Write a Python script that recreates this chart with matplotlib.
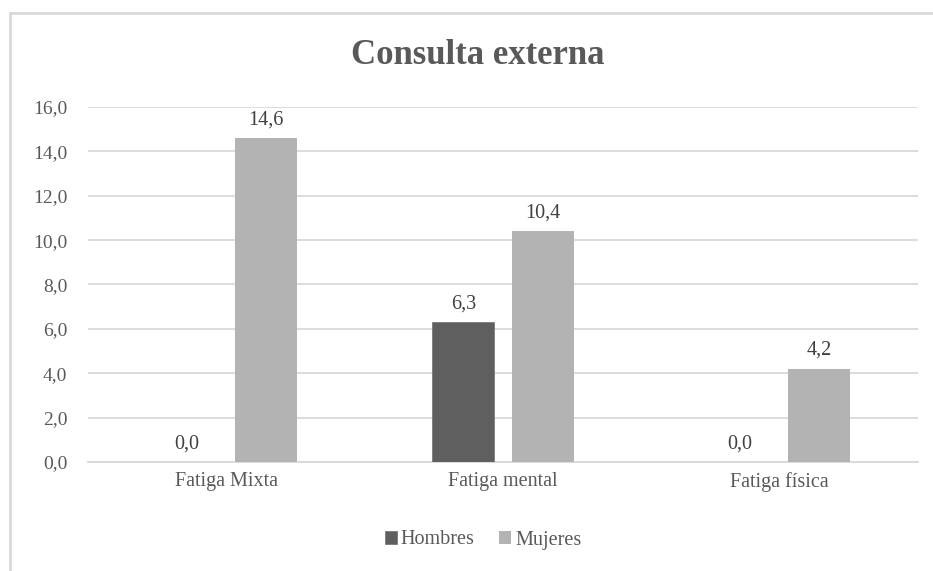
import matplotlib.pyplot as plt
import numpy as np

categorias = ["Fatiga Mixta", "Fatiga mental", "Fatiga física"]
hombres = [0.0, 6.3, 0.0]
mujeres = [14.6, 10.4, 4.2]
yticks = [0, 2, 4, 6, 8, 10, 12, 14, 16]

plt.rcParams['font.family'] = ['Liberation Serif', 'DejaVu Serif']

def coma(v):
	return ("%.1f" % v).replace(".", ",")

fig = plt.figure(figsize=(9.33, 5.71), dpi=100)
ax = fig.add_axes([88/933, 0.191, (918-88)/933, 0.6216])

#chart border (top and left only)
fig.add_artist(plt.Line2D([10/933, 1], [1-13/571, 1-13/571], color='#D9D9D9', lw=2))
fig.add_artist(plt.Line2D([10/933, 10/933], [0, 1-13/571], color='#D9D9D9', lw=2))

x = np.arange(len(categorias))
w = 0.224
off = 0.143
b1 = ax.bar(x - off, hombres, w, color='#5F5F5F', edgecolor='#7A7A7A', lw=0.6, label='Hombres', zorder=3)
b2 = ax.bar(x + off, mujeres, w, color='#B3B3B3', label='Mujeres', zorder=3)

for bars, vals in ((b1, hombres), (b2, mujeres)):
	for r, v in zip(bars, vals):
		ax.text(r.get_x() + r.get_width()/2, v + 0.4, coma(v), ha='center', va='bottom', fontsize=14.5, color='#404040')

ax.set_xlim(-0.5, 2.5)
ax.set_ylim(0, 16)
ax.set_yticks(yticks)
ax.set_yticklabels([coma(v) for v in yticks], fontsize=14, color='#595959')
ax.set_xticks(x)
ax.set_xticklabels(categorias, fontsize=14.5, color='#595959')
ax.tick_params(length=0, pad=7)
ax.tick_params(axis='y', pad=15)
ax.grid(axis='y', color='#D9D9D9', lw=1.3, zorder=0)
for s in ('top', 'right', 'left'):
	ax.spines[s].set_visible(False)
ax.spines['bottom'].set_color('#D9D9D9')
ax.spines['bottom'].set_linewidth(1.3)

fig.text(478/933, 1-55/571, "Consulta externa", ha='center', va='center', fontsize=25, fontweight='bold', color='#595959')

fig.legend(loc='center', bbox_to_anchor=(483/933, 1-540/571), ncol=2, frameon=False,
	fontsize=14.5, handlelength=0.6, handleheight=0.6, handletextpad=0.2, columnspacing=1.2,
	labelcolor='#595959')

fig.savefig("out.png", dpi=100)
